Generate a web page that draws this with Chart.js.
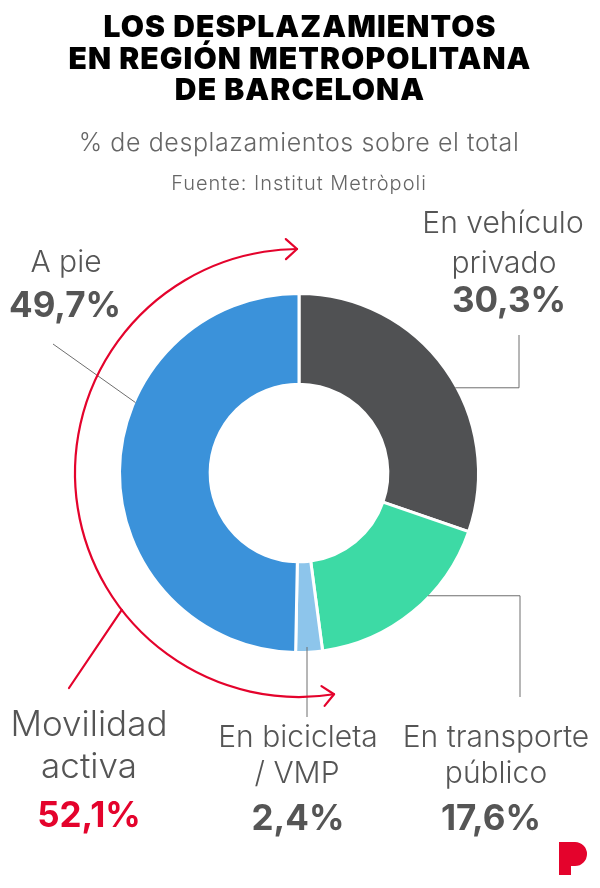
<!DOCTYPE html>
<html>
<head>
<meta charset="utf-8">
<script src="https://cdn.jsdelivr.net/npm/chart.js@4.4.1/dist/chart.umd.min.js"></script>
<style>
  html,body{margin:0;padding:0;background:#fff;}
  body{width:600px;height:888px;position:relative;overflow:hidden;font-family:Inter,"Noto Sans",sans-serif;}
  #wrap{position:absolute;left:0;top:0;width:600px;height:888px;}
  .t{position:absolute;white-space:nowrap;transform:translateX(-50%);text-align:center;}
</style>
</head>
<body>
<div id="wrap"><canvas id="c"></canvas></div>
<svg style="position:absolute;left:0;top:0" width="600" height="888">
  <path d="M559 842 H575 A12 12 0 0 1 575 866 H571 V875 H559 Z" fill="#e4032c"/>
</svg>
<script>
// ---------- data ----------
const titleLines = ['LOS DESPLAZAMIENTOS', 'EN REGIÓN METROPOLITANA', 'DE BARCELONA'];
const subtitle = '% de desplazamientos sobre el total';
const source = 'Fuente: Institut Metròpoli';
const categories = ['En vehículo privado', 'En transporte público', 'En bicicleta / VMP', 'A pie'];
const values = [30.3, 17.6, 2.4, 49.7];
const labelLines = [['En vehículo', 'privado'], ['En transporte', 'público'], ['En bicicleta', '/ VMP'], ['A pie']];
const colors = ['#505153', '#3ddaa5', '#8dc5eb', '#3b92da'];
const activeLabel = ['Movilidad', 'activa'];
const activeValue = 52.1;

const fmt = v => v.toFixed(1).replace('.', ',') + '%';

// ---------- text helpers ----------
function addText(str, cx, baseline, size, weight, color, ls) {
  const d = document.createElement('div');
  d.className = 't';
  d.textContent = str;
  d.style.left = cx + 'px';
  d.style.top = (baseline - 0.864 * size) + 'px';
  d.style.fontSize = size + 'px';
  d.style.lineHeight = size + 'px';
  d.style.fontWeight = weight;
  d.style.color = color;
  if (ls) d.style.letterSpacing = ls + 'px';
  document.body.appendChild(d);
}

// title
titleLines.forEach((s, i) => addText(s, 300, 37 + i * 31.5, 30, 900, '#000', 1.1));
addText(subtitle, 299, 152, 25, 300, '#666', 0.6);
addText(source, 299, 190, 20, 300, '#666', 1.0);

const gray = '#555';
addText(labelLines[0][0], 503, 233, 30, 300, gray);
addText(labelLines[0][1], 504, 273, 30, 300, gray);
addText(fmt(values[0]), 509, 312, 35, 700, gray);

addText(labelLines[1][0], 496, 747, 30, 300, gray);
addText(labelLines[1][1], 496, 783, 30, 300, gray);
addText(fmt(values[1]), 491, 830, 35, 700, gray);

addText(labelLines[2][0], 298, 747, 30, 300, gray);
addText(labelLines[2][1], 297, 783, 30, 300, gray);
addText(fmt(values[2]), 298, 830, 35, 700, gray);

addText(labelLines[3][0], 66, 272, 30, 300, gray);
addText(fmt(values[3]), 65, 317, 35, 700, gray);

addText(activeLabel[0], 89, 736, 35, 300, gray);
addText(activeLabel[1], 89, 778, 35, 300, gray);
addText(fmt(activeValue), 89, 827, 35, 700, '#e4032c');

// ---------- annotation plugin ----------
const annot = {
  id: 'annot',
  afterDraw(chart) {
    const ctx = chart.ctx;
    const a = chart.getDatasetMeta(0).data[0];
    const cx = a.x, cy = a.y, R = a.outerRadius - 1.5;
    const rad = d => d * Math.PI / 180;
    const pt = (deg, r) => [cx + r * Math.cos(rad(deg)), cy + r * Math.sin(rad(deg))];
    ctx.save();
    ctx.strokeStyle = '#6e6e6e';
    ctx.lineWidth = 1;
    const line = pts => { ctx.beginPath(); ctx.moveTo(pts[0][0], pts[0][1]); for (let i = 1; i < pts.length; i++) ctx.lineTo(pts[i][0], pts[i][1]); ctx.stroke(); };
    // A pie
    line([[cx - 246, cy - 129], pt(203.3, R)]);
    // vehiculo
    const pv = pt(-28.6, R);
    line([pv, [cx + 220, pv[1]], [cx + 220, cy - 138]]);
    // transporte
    const pt2 = pt(43.6, R);
    line([pt2, [cx + 221, pt2[1]], [cx + 221, cy + 224]]);
    // bicicleta
    line([[cx + 8, cy + 174], [cx + 8, cy + 244]]);

    // red arc
    const rr = R + 46;
    const red = '#e4032c';
    ctx.strokeStyle = red;
    ctx.lineWidth = 2.2;
    ctx.lineCap = 'round';
    ctx.lineJoin = 'round';
    const a0 = 81, a1 = 269.5;
    ctx.beginPath();
    ctx.arc(cx, cy, rr, rad(a0), rad(a1), false);
    ctx.stroke();
    const arrow = (deg, dir) => {
      const t = pt(deg, rr);
      const th = rad(deg);
      let dx = -Math.sin(th) * dir, dy = Math.cos(th) * dir;
      const L = 15, sp = rad(42);
      ctx.beginPath();
      for (const s of [sp, -sp]) {
        const ux = dx * Math.cos(s) - dy * Math.sin(s);
        const uy = dx * Math.sin(s) + dy * Math.cos(s);
        ctx.moveTo(t[0] - L * ux, t[1] - L * uy);
        ctx.lineTo(t[0], t[1]);
      }
      ctx.stroke();
    };
    arrow(a1, 1);
    arrow(a0, -1);
    // red leader
    line([pt(142.3, rr), [cx - 230, cy + 215]]);
    ctx.restore();
  }
};

new Chart(document.getElementById('c'), {
  type: 'doughnut',
  data: {
    labels: categories,
    datasets: [{
      data: values,
      backgroundColor: colors,
      borderColor: '#ffffff',
      borderWidth: 3,
      hoverOffset: 0
    }]
  },
  options: {
    responsive: true,
    maintainAspectRatio: false,
    animation: false,
    cutout: '49.5%',
    layout: { padding: { left: 118, right: 120, top: 292, bottom: 234 } },
    plugins: { legend: { display: false }, tooltip: { enabled: false } },
    events: []
  },
  plugins: [annot]
});
</script>
</body>
</html>
